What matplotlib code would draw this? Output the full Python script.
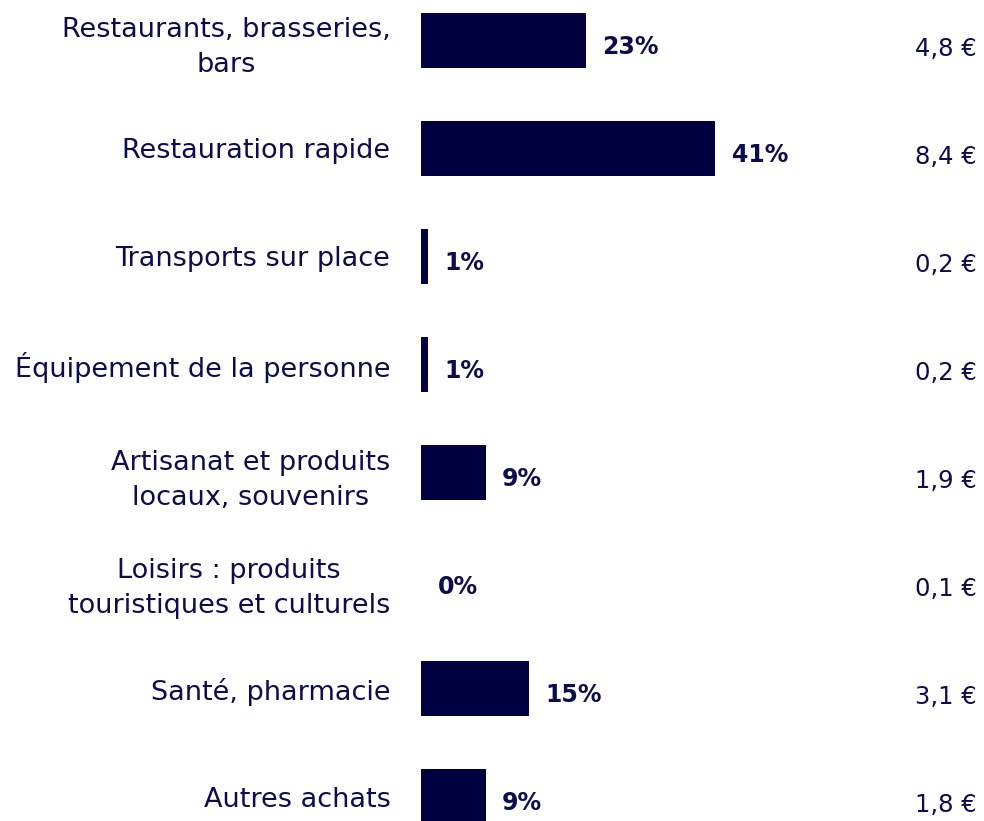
import matplotlib.pyplot as plt
import numpy as np

plt.rcParams['font.family'] = ['DejaVu Sans']

categories = [
    "Restaurants, brasseries,\nbars",
    "Restauration rapide",
    "Transports sur place",
    "Équipement de la personne",
    "Artisanat et produits\nlocaux, souvenirs",
    "Loisirs : produits\ntouristiques et culturels",
    "Santé, pharmacie",
    "Autres achats",
]
shares = [23, 41, 1, 1, 9, 0, 15, 9]
amounts = ["4,8 €", "8,4 €", "0,2 €", "0,2 €", "1,9 €", "0,1 €", "3,1 €", "1,8 €"]

navy = '#000040'
text_color = '#0d0d4d'

fig = plt.figure(figsize=(9.84, 8.21), dpi=100)
ax = fig.add_axes([421 / 984, 0, (977 - 421) / 984, 1])

y = np.arange(len(categories))
ax.barh(y, shares, height=0.51, color=navy)

ax.set_xlim(0, 556 / 7.17)
ax.set_ylim((821 - 40.5) / 108, -40.5 / 108)

for yi, s, a in zip(y, shares, amounts):
    ax.annotate(f"{s}%", (s, yi), xytext=(12, -4.5), textcoords='offset points',
                ha='left', va='center', fontsize=17, fontweight='bold', color=text_color)
    ax.annotate(a, (1.0, yi), xycoords=('axes fraction', 'data'), xytext=(0, -6),
                textcoords='offset points', ha='right', va='center',
                fontsize=17.5, color=text_color)

ax.set_yticks(y)
ax.set_yticklabels(categories, fontsize=19.5, color=text_color, linespacing=1.45)
for lbl in ax.get_yticklabels():
    lbl.set_multialignment('center')
ax.tick_params(axis='y', length=0, pad=22)
ax.set_xticks([])
for sp in ax.spines.values():
    sp.set_visible(False)

fig.savefig('out.png', dpi=100)
